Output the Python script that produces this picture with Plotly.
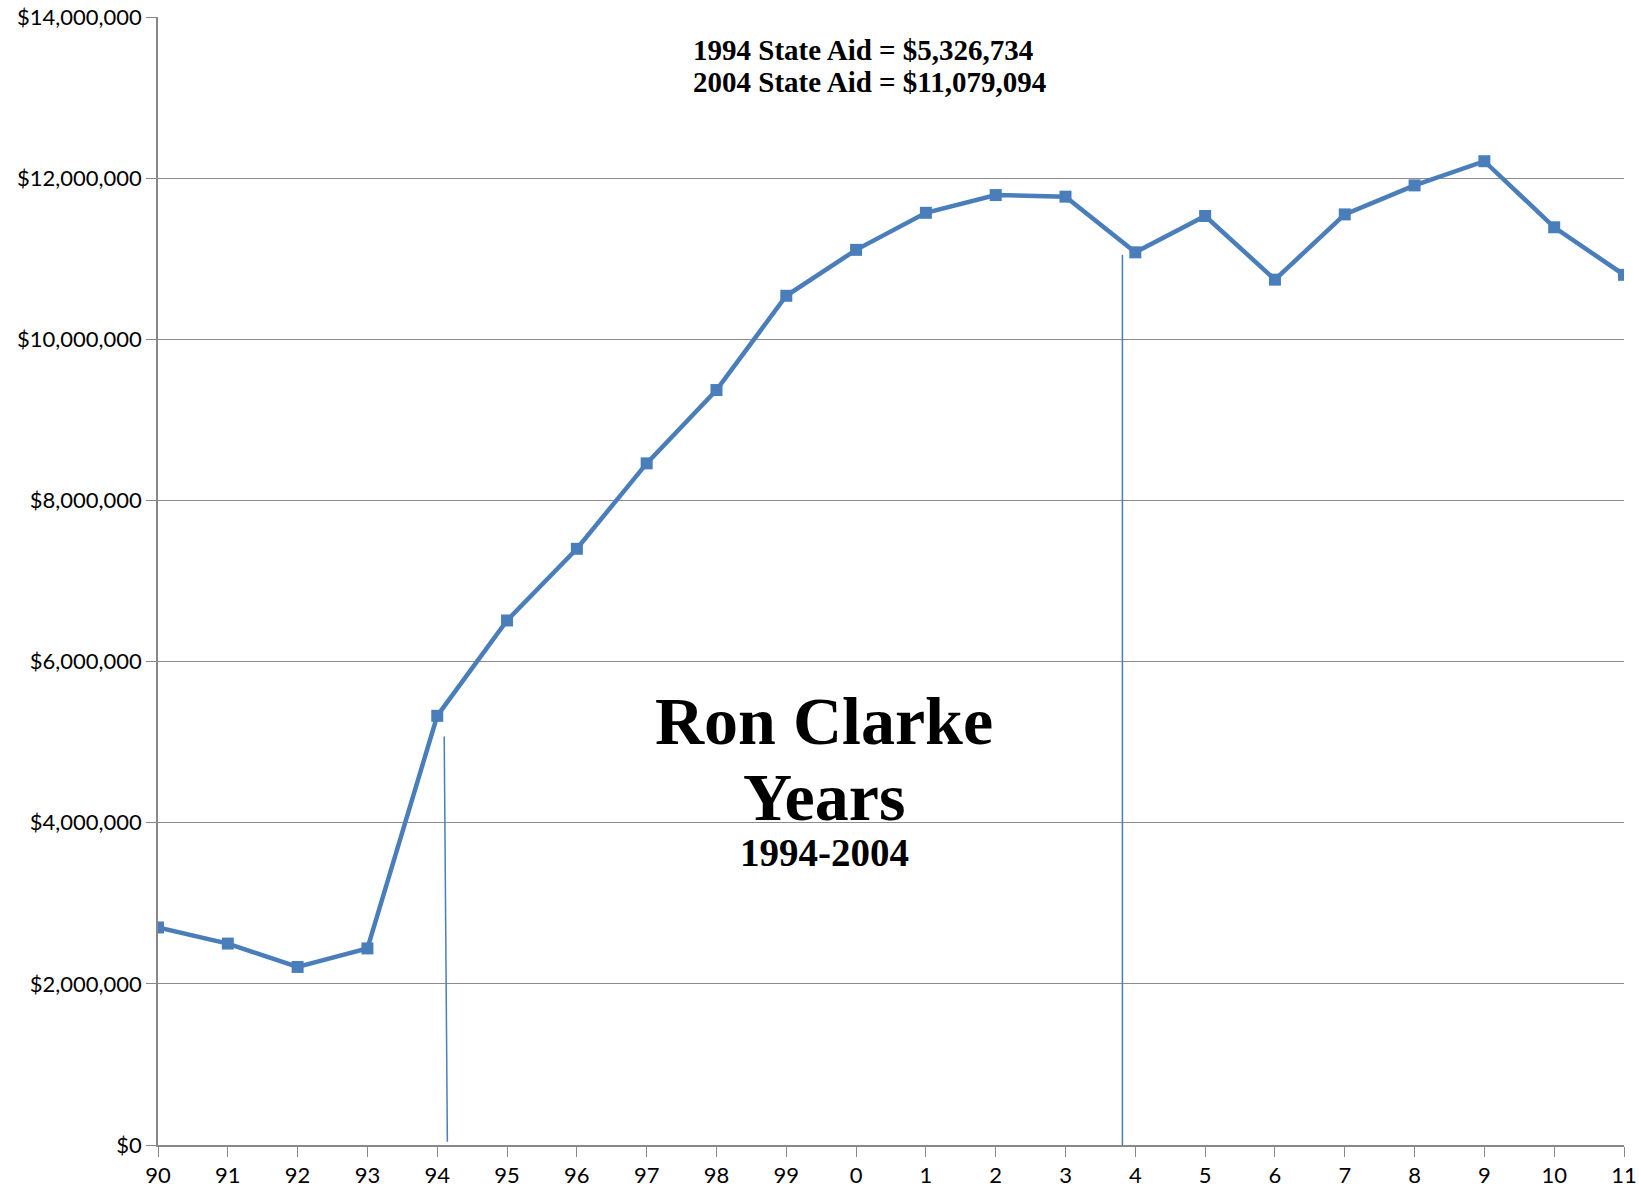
import plotly.graph_objects as go

years = ["90", "91", "92", "93", "94", "95", "96", "97", "98", "99", "0",
         "1", "2", "3", "4", "5", "6", "7", "8", "9", "10", "11"]
state_aid = [2700000, 2500000, 2210000, 2440000, 5326734, 6510000, 7400000,
             8460000, 9370000, 10540000, 11110000, 11570000, 11790000, 11770000,
             11079094, 11530000, 10740000, 11550000, 11910000, 12210000,
             11390000, 10800000]
y_ticks = [0, 2000000, 4000000, 6000000, 8000000, 10000000, 12000000, 14000000]
y_tick_labels = ["$0", "$2,000,000", "$4,000,000", "$6,000,000", "$8,000,000",
                 "$10,000,000", "$12,000,000", "$14,000,000"]
# marker lines: (x_top, y_top, x_bottom, y_bottom) in axis units
marker_lines = [(4.10, 5070000, 4.145, 40000), (13.815, 11050000, 13.815, 0)]

xi = list(range(len(years)))
blue = "#4A7EBB"

L, R, T, B = 158, 15, 17, 46
W, H = 1639, 1191
pw, ph = W - L - R, H - T - B


def px(x):
    return (x - L) / pw


def py(y):
    return (H - B - y) / ph


fig = go.Figure()
fig.add_trace(go.Scatter(
    x=xi, y=state_aid, mode="lines+markers",
    line=dict(color=blue, width=4.5),
    marker=dict(symbol="square", size=12, color=blue),
    showlegend=False, hoverinfo="skip"))

for x0, y0, x1, y1 in marker_lines:
    fig.add_shape(type="line", x0=x0, y0=y0, x1=x1, y1=y1, xref="x", yref="y",
                  line=dict(color=blue, width=1.5))

serif = "Liberation Serif"
texts = [
    ("<b>1994 State Aid = $5,326,734</b>", 691, 50, 29, "left"),
    ("<b>2004 State Aid = $11,079,094</b>", 691, 82, 29, "left"),
    ("<b>Ron Clarke</b>", 824, 721, 68, "center"),
    ("<b>Years</b>", 824, 797, 68, "center"),
    ("<b>1994-2004</b>", 824, 852, 39, "center"),
]
for t, x, y, s, anc in texts:
    fig.add_annotation(text=t, xref="paper", yref="paper", x=px(x), y=py(y),
                       showarrow=False, yanchor="middle", xanchor=anc,
                       font=dict(family=serif, size=s, color="black"))

fig.update_layout(
    width=W, height=H,
    margin=dict(l=L, r=R, t=T, b=B, autoexpand=False),
    plot_bgcolor="white", paper_bgcolor="white",
    font=dict(family="Lato", size=22, color="black"),
    xaxis=dict(range=[0, 21], tickvals=xi, ticktext=years, showgrid=False,
               showline=True, linecolor="#888888", linewidth=1.5,
               ticks="outside", ticklen=10, tickcolor="#888888", zeroline=False),
    yaxis=dict(range=[0, 14000000], tickvals=y_ticks, ticktext=y_tick_labels,
               showgrid=True, gridcolor="#8c8c8c", gridwidth=1,
               showline=True, linecolor="#888888", linewidth=1.5,
               ticks="outside", ticklen=10, tickcolor="#888888", zeroline=False),
)

fig.write_html("out.html", config={"displayModeBar": False},
               post_script="document.body.style.margin='0';")
